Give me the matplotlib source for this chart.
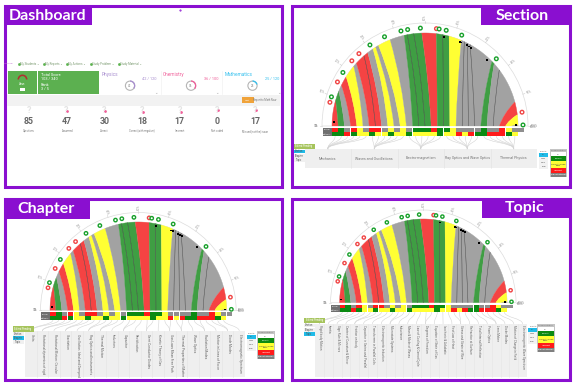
import matplotlib
matplotlib.use('Agg')
import matplotlib.pyplot as plt
from matplotlib.patches import Rectangle, Wedge, PathPatch, Circle
from matplotlib.path import Path
import numpy as np

plt.rcParams['font.family'] = ['Roboto', 'DejaVu Sans']

PURPLE = '#8a0fd0'
COLORS = {'R': '#f54343', 'G': '#3f9e43', 'Y': '#ffff33', 'A': '#a2a2a2'}
CELLS = {'R': '#ff1a1a', 'G': '#0b8a12', 'Y': '#ffff33', 'A': '#8f8f8f'}

# gauge data
top_row = list('RGARYARRAYAYAGGGRGGYAAAAGAARYA')
bottom_row = list('GGRGYYGYYGYYGYYYYGYYRYRGGRRRGY')
band_angles = [180, 164, 158, 154, 148, 140, 137.5, 131, 128, 124, 122, 120, 112, 103, 101,
               97, 92, 83, 79, 75, 67, 65, 63, 61, 44, 42, 37, 15, 7, 0.6, 0]
ring_angles = [166, 162.7, 153.3, 146.9, 138.3, 132.4, 124.2, 114.4, 104.2, 100.2, 92.7,
               83.3, 81.7, 77.5, 68, 43.3, 8.1, 0.6]
ring_kinds = list('RGRGRRGGGGGRGGGGRG')
dot_angles = [177.7, 78, 67.6, 66.5, 62.5, 60.8, 59.3, 46.8, 0.5]
pct_labels = ['0%', '10%', '20%', '30%', '40%', '50%', '60%', '70%', '80%', '90%', '100%']

# dashboard data
stat_values = [85, 47, 30, 18, 17, 0, 17]
stat_labels = ['Questions', 'Answered', 'Correct', 'Correct(with negative)', 'Incorrect',
               'Not coded', 'Missed (not the) issue']
subjects = ['Physics', 'Chemistry', 'Mathematics']
subject_scores = [42, 36, 25]
subject_totals = [120, 100, 120]
subject_colors = ['#a98fd0', '#f0609a', '#35c0ee']
nav_labels = ['My Students', 'My Reports', 'My Actions', 'Study Problem', 'Study Material']

section_names = ['Mechanics', 'Waves and Oscillations', 'Electro-magnetism',
                 'Ray Optics and Wave Optics', 'Thermal Physics']
chapter_names = ['Units', 'Rotational dynamics of rigid', 'Rotational Motion: Circular',
                 'Gravitation', 'Oscillation: Ideal and Damped',
                 'Ray Optics and Instruments', 'Thermal Motion', 'Inductors', 'Capacitor',
                 'Rectification', 'Semi Conductor Diodes', 'Kinetic Theory of Gas',
                 'Gas Laws Mean Free Path', 'Thermal Properties of Matter', 'Wave Optics',
                 'Radiation Modes', 'Motion in Lines of Force', 'Diode Modes',
                 'Electromagnetic Spectrum']
topic_names = ['Rigid body Motion', 'Inertia', 'Sign Rule & Mirrors', 'Center of Curvature & Mirror',
               'Friction on body', 'Capacitor in Series and Parallel', 'Transformer in Parallel Coils',
               'Electromagnetic Induction', 'Microstate Systems', 'Inductance',
               'Mean & Mode of Waves', 'Law of Cooling & Carnot Cycle',
               'Degrees of Freedom', 'Equation of State of Gas', 'Isochoric & Adiabatic',
               'First Law of Heat', 'Stress and Strain of Wire', 'Refraction at Surface',
               'Total Internal Reflection', 'Prism Optics', 'Lens Maker', 'Diode Modes',
               'Motion of Charge in Field', 'Electromagnetic Wave Spectrum']

fig = plt.figure(figsize=(5.74, 3.83), dpi=100)
ax = fig.add_axes([0, 0, 1, 1])
ax.set_xlim(0, 574)
ax.set_ylim(383, 0)
ax.axis('off')


def rect(x0, y0, x1, y1, color, z=2, **kw):
    ax.add_patch(Rectangle((x0, y0), x1 - x0, y1 - y0, facecolor=color, edgecolor='none', zorder=z, **kw))


def label(x, y, s, size=2.2, color='#777777', **kw):
    kw.setdefault('ha', 'center')
    kw.setdefault('va', 'center')
    kw.setdefault('zorder', 9)
    ax.text(x, y, s, fontsize=size, color=color, **kw)


def frame(x0, y0, x1, y1, title, tag_x0, tag_x1, tag_y1, title_x):
    ax.add_patch(Rectangle((x0, y0), x1 - x0, y1 - y0, facecolor='white', edgecolor=PURPLE,
                           linewidth=2.2, zorder=1))
    rect(tag_x0, y0, tag_x1, tag_y1, PURPLE, z=10)
    label(title_x, (y0 + tag_y1) / 2, title, size=11.5, color='white', fontweight='bold',
          family=['Lato', 'DejaVu Sans'], zorder=11)


def gauge(cx, cy, r):
    s = r / 93.0
    n = len(top_row)
    edges = [cx - r + i * 2 * r / n for i in range(n + 1)]

    # outer ring and ticks (y axis is flipped, so the upper half is 180..360)
    ax.add_patch(Wedge((cx, cy), 103 * s, 180, 360, width=10 * s, facecolor='white', edgecolor='#dcdcdc',
                       linewidth=0.5, zorder=2))
    for a, t in zip(np.linspace(180, 0, len(pct_labels)), pct_labels):
        ca, sa = np.cos(np.radians(a)), np.sin(np.radians(a))
        ax.plot([cx + 103 * s * ca, cx + 105 * s * ca], [cy - 103 * s * sa, cy - 105 * s * sa],
                color='#cccccc', lw=0.4, zorder=2)
        rot = a if a <= 90 else a - 180
        label(cx + 109 * s * ca, cy - 109 * s * sa, t, size=2.2, rotation=rot, color='#999999')

    # ribbons, base cell up to the arc
    for i, kind in enumerate(top_row):
        a0, a1 = np.radians(band_angles[i]), np.radians(band_angles[i + 1])
        arc = np.linspace(a0, a1, 8)
        xb0, xb1 = edges[i], edges[i + 1]
        xt0, xt1 = cx + r * np.cos(a0), cx + r * np.cos(a1)
        yt0, yt1 = cy - r * np.sin(a0), cy - r * np.sin(a1)
        c0 = (0.75 * xb0 + 0.25 * xt0, (cy + yt0) / 2)
        c1 = (0.75 * xb1 + 0.25 * xt1, (cy + yt1) / 2)
        verts = [(xb0, cy), c0, (xt0, yt0)]
        codes = [Path.MOVETO, Path.CURVE3, Path.CURVE3]
        for t in arc[1:]:
            verts.append((cx + r * np.cos(t), cy - r * np.sin(t)))
            codes.append(Path.LINETO)
        verts += [c1, (xb1, cy), (xb0, cy)]
        codes += [Path.CURVE3, Path.CURVE3, Path.CLOSEPOLY]
        ax.add_patch(PathPatch(Path(verts, codes), facecolor=COLORS[kind], edgecolor=COLORS[kind],
                               linewidth=0.2, zorder=3))
        # hairline only where two bands of one colour touch
        if i + 1 < n and top_row[i + 1] == kind:
            line = Path([(xb1, cy), c1, (xt1, yt1)], [Path.MOVETO, Path.CURVE3, Path.CURVE3])
            ax.add_patch(PathPatch(line, facecolor='none', edgecolor='#444444', linewidth=0.35, zorder=4))

    # cell rows below the gauge
    w = edges[1] - edges[0]
    y0, y1, y2 = cy + 2 * s, cy + 6 * s, cy + 10 * s
    rect(edges[0] - 9.5 * s, y0, edges[0], y2, '#6f6f6f', z=4)
    label(edges[0] - 4.7 * s, (y0 + y1) / 2, 'Overall', size=1.5, color='white')
    label(edges[0] - 4.7 * s, (y1 + y2) / 2, 'Difficulty', size=1.5, color='white')
    rect(edges[-1], y0, edges[-1] + w, y1, '#8f8f8f', z=4)
    for i in range(n):
        rect(edges[i], y0, edges[i] + w - 0.2, y1, CELLS[top_row[i]], z=4)
        rect(edges[i], y1, edges[i] + w - 0.2, y2, CELLS[bottom_row[i]], z=4)
    label(edges[0] - 15 * s, cy, '0%', size=2)
    label(edges[-1] + 15 * s, cy + 1, '100%', size=2)

    # markers on the ring
    for a, k in zip(ring_angles, ring_kinds):
        t = np.radians(a)
        ax.add_patch(Circle((cx + 98 * s * np.cos(t), cy - 98 * s * np.sin(t)), 1.8 * s, facecolor='white',
                            edgecolor='#17a02a' if k == 'G' else '#f04545', linewidth=1.0, zorder=6))
    for a in dot_angles:
        t = np.radians(a)
        rect(cx + 91 * s * np.cos(t) - 1, cy - 91 * s * np.sin(t) - 0.9,
             cx + 91 * s * np.cos(t) + 1, cy - 91 * s * np.sin(t) + 0.9, 'black', z=7)
    return edges, y2


def links(edges, y_from, centers, y_to):
    n = len(top_row)
    for i in range(n):
        j = i * len(centers) // n
        xa = (edges[i] + edges[i + 1]) / 2
        xb = centers[j]
        ym = (y_from + y_to) / 2
        p = Path([(xa, y_from), (xa, ym), (xb, ym), (xb, y_to)],
                 [Path.MOVETO, Path.CURVE4, Path.CURVE4, Path.CURVE4])
        ax.add_patch(PathPatch(p, facecolor='none', edgecolor='#d4d4d4', linewidth=0.4, zorder=2))


def side_controls(bx, by, active, px, py, sx, sy):
    # level buttons on the left, priority and status keys on the right
    rect(bx, by, bx + 21, by + 5.5, '#a6c45c', z=5)
    label(bx + 10.5, by + 2.8, 'Edited Pending', size=1.9, color='white')
    for i, t in enumerate(['Section', 'Chapter', 'Topic']):
        yy = by + 6 + i * 4.2
        rect(bx, yy, bx + 11, yy + 3.8, '#1fbbe8' if t == active else '#f0f0f0', z=5)
        label(bx + 5.5, yy + 1.9, t, size=1.8, color='#555555')
    label(px + 5, py + 2, 'Priority', size=1.7)
    for i, t in enumerate(['All', 'High', 'Med', 'Low']):
        yy = py + 4 + i * 4
        rect(px, yy, px + 9, yy + 3.6, '#1fbbe8' if i == 0 else '#f2f2f2', z=5)
        label(px + 4.5, yy + 1.8, t, size=1.7, color='#555555')
    rect(sx, sy, sx + 17.5, sy + 28, '#c4c4c4', z=4)
    label(sx + 8.7, sy + 1.6, 'Answer Status', size=1.6)
    rect(sx + 1, sy + 3.4, sx + 16.5, sy + 7, 'white', z=5)
    label(sx + 8.7, sy + 5.2, 'All', size=1.6)
    key_y = [7, 11.5, 19, 23.5]
    key_h = [4.5, 7.5, 4.5, 4.5]
    key_c = ['#0b8a12', '#ffff33', '#ff1a1a', '#7f7f7f']
    key_t = ['Correct', 'Correct / Done\nSlow', 'Incorrect', 'Did not attempt']
    key_f = ['white', '#444444', 'white', 'white']
    for yy, hh, c, t, f in zip(key_y, key_h, key_c, key_t, key_f):
        rect(sx + 1, sy + yy, sx + 16.5, sy + yy + hh, c, z=5)
        label(sx + 8.7, sy + yy + hh / 2, t, size=1.6, color=f)


# panels
frame(4.5, 6, 281.5, 187, 'Dashboard', 4.5, 91.5, 25, 47.5)
frame(292, 6, 570, 187, 'Section', 481, 570, 25, 522)
frame(4.5, 199, 281.5, 379.5, 'Chapter', 4.5, 90, 218.5, 46)
frame(292, 199, 570, 379.5, 'Topic', 482, 570, 217.5, 525)

# dashboard
nav_x = [18.5, 43.5, 67, 90.5, 118.5]
for x, t in zip(nav_x, nav_labels):
    ax.plot([x], [64], 's', ms=0.9, color='#5ab34d', zorder=5)
    label(x + 1.5, 64, t + ' \u2304', size=2.1, ha='left', color='#7a9a70')
label(9, 64, 'Overview', size=1.7, color='#c070d0')
rect(8, 70.5, 36.5, 94, '#5cb050')
rect(38, 70.5, 99, 94, '#5cb050')
ax.add_patch(Wedge((22.5, 79.5), 5, 180, 360, width=1.6, facecolor='#b03030', edgecolor='none', zorder=4))
label(22, 84, 'Varun', size=1.8, color='white')
rect(20, 87.5, 25, 90.5, 'white', z=4)
for y, t in zip([74.5, 79, 85, 89.5], ['Total Score', '103 / 340', 'Rank', '3 / 5']):
    label(41, y, t, size=2.8, ha='left', color='white')
card_x = [102, 163, 224.5]
for x, name, score, total, c in zip(card_x, subjects, subject_scores, subject_totals, subject_colors):
    label(x, 74.5, name, size=3.4, ha='left', color=c)
    label(x + 55, 78.5, f'{score} / {total}', size=2.8, ha='right', color=c)
    cx, cy = x + 28, 85.7
    ax.add_patch(Circle((cx, cy), 4.6, facecolor='white', edgecolor='#b5b5b5', linewidth=0.8, zorder=3))
    ax.add_patch(Wedge((cx, cy), 5.3, -90, -90 + 360 * score / total, width=1.3, facecolor=c, edgecolor='none', zorder=4))
    label(cx, cy, str(score), size=2.2)
    label(x + 54, 92.5, '\u2304', size=3, color='#aaaaaa')
ax.plot([161, 161], [71, 94], color='#eeeeee', lw=0.4, zorder=2)
ax.plot([222, 222], [71, 94], color='#eeeeee', lw=0.4, zorder=2)
rect(7, 94.5, 279.5, 105.5, '#f2f2f2')
rect(241.5, 97.3, 253.5, 102.7, '#f0a33a', z=4)
label(247.5, 100, 'Next', size=1.7, color='white')
label(265, 100, 'Report to Math Now', size=1.9)
stat_x = [29, 66.3, 104.3, 142.3, 179.7, 217.3, 255]
for x, v, t in zip(stat_x, stat_values, stat_labels):
    label(x, 121, str(v), size=6.3, color='#666666', fontweight='bold')
    label(x, 130.7, t, size=1.9)
    label(x, 110.5, '?', size=6.5, color='#e4e4e4', fontweight='bold')
for x, y in zip(stat_x[1:], [111, 111, 112, 112, 110, 110]):
    ax.plot([x + 1], [y], 'o', ms=1, color='#f0609a', zorder=8)
ax.plot([180], [9.5], '.', ms=1, color=PURPLE, zorder=3)

# section panel
edges, y_end = gauge(425, 126, 93)
rect(304.5, 149, 537, 167.7, '#efefef')
sec_w = (537 - 304.5) / len(section_names)
sec_c = [304.5 + (i + 0.5) * sec_w for i in range(len(section_names))]
for i, (x, t) in enumerate(zip(sec_c, section_names)):
    label(x, 158.5, t, size=2.6)
    if i:
        ax.plot([x - sec_w / 2] * 2, [149, 167.7], color='#e2e2e2', lw=0.4, zorder=3)
links(edges, y_end, sec_c, 149)
side_controls(293.5, 143.5, 'Section', 539, 149, 549.5, 149)

# chapter panel
edges, y_end = gauge(138.3, 310.3, 88.3)
x0, x1 = 25, 245
rect(x0, 331, x1, 377, '#efefef')
w = (x1 - x0) / len(chapter_names)
cent = [x0 + (i + 0.5) * w for i in range(len(chapter_names))]
for i, (x, t) in enumerate(zip(cent, chapter_names)):
    label(x + 1, 334, t, size=2.3, rotation=270, va='top', color='#666666')
    if i:
        ax.plot([x - w / 2] * 2, [331, 377], color='#e4e4e4', lw=0.4, zorder=3)
links(edges, y_end, cent, 331)
side_controls(12.5, 326, 'Chapter', 246.5, 331, 257, 331)

# topic panel
edges, y_end = gauge(423.3, 302.7, 83.7)
x0, x1 = 315, 527
rect(x0, 324, x1, 377, '#efefef')
w = (x1 - x0) / len(topic_names)
cent = [x0 + (i + 0.5) * w for i in range(len(topic_names))]
for i, (x, t) in enumerate(zip(cent, topic_names)):
    label(x + 0.5, 325, t, size=2.2, rotation=270, va='top', color='#666666')
    if i:
        ax.plot([x - w / 2] * 2, [324, 377], color='#e6e6e6', lw=0.4, zorder=3)
links(edges, y_end, cent, 324)
side_controls(304, 317.5, 'Topic', 528, 324, 537, 324)

fig.savefig('out.png', dpi=100)
